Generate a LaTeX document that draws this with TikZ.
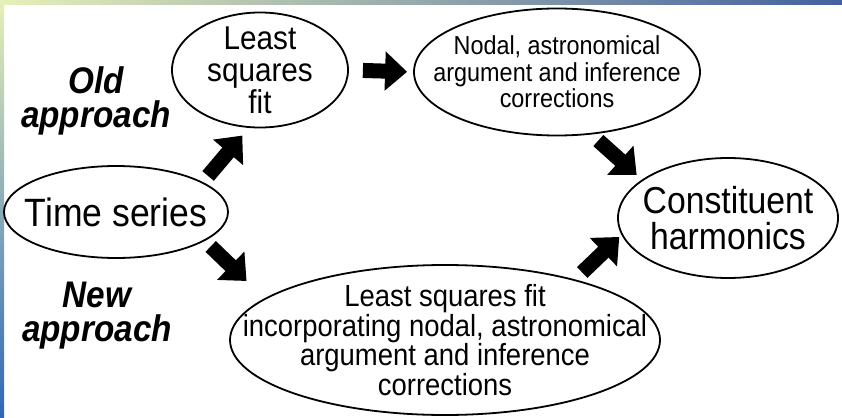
\documentclass[tikz,border=0pt]{standalone}
\usepackage{fontspec}
\setmainfont{Liberation Sans}[FakeStretch=0.9]
\usetikzlibrary{shapes.geometric,arrows.meta}
\definecolor{stripyellow}{HTML}{E6F0B8}
\definecolor{stripgrey}{HTML}{8CA4B4}
\definecolor{stripnavy}{HTML}{4460A0}
\definecolor{stripcyan}{HTML}{5CC4DC}
\definecolor{stripblue}{HTML}{2E66B8}

\begin{document}
\begin{tikzpicture}[x=1pt, y=-1pt,
    bubble/.style={draw, ellipse, line width=1.8pt, inner xsep=-45pt, inner ysep=-14pt, align=center},
    fat/.style={line width=15pt, -{Triangle[length=22pt, width=38pt]}},
    side/.style={align=center, font=\bfseries\itshape\fontsize{37}{34}\selectfont}]
    \useasboundingbox (0,0) rectangle (842,417);
    % frame strips
    \shade[left color=stripyellow, middle color=stripgrey, right color=stripnavy] (0,0) rectangle (842,5);
    \shade[top color=stripyellow, middle color=stripcyan, bottom color=stripblue] (0,0) rectangle (4,417);

    \node[bubble, minimum width=224pt, minimum height=92pt, font=\fontsize{39.5}{32}\selectfont] (series) at (116,212) {Time series};
    \node[bubble, minimum width=176pt, minimum height=115pt, font=\fontsize{33}{32}\selectfont] (lsfit) at (260,70) {Least\\squares\\fit};
    \node[bubble, minimum width=286pt, minimum height=127pt, font=\fontsize{26}{26.5}\selectfont] (corr) at (557,72) {Nodal, astronomical\\argument and inference\\corrections};
    \node[bubble, minimum width=220pt, minimum height=120pt, font=\fontsize{37.5}{36}\selectfont] (harm) at (728,218) {Constituent\\harmonics};
    \node[bubble, inner xsep=-75pt, minimum width=430pt, minimum height=150pt, font=\fontsize{30.5}{27.5}\selectfont] (newfit) at (445,340) {Least squares fit\\incorporating nodal, astronomical\\argument and inference\\corrections};
    \node[side] (old) at (96,101) {Old\\approach};
    \node[side] (new) at (97,316) {New\\approach};

    \draw[fat, shorten <=8pt, shorten >=10pt] (series.19) -- (lsfit.-101);
    \draw[fat, shorten <=14pt, shorten >=6pt] (lsfit.0) -- (corr.180);
    \draw[fat, shorten <=9pt, shorten >=7pt] (corr.-61.5) -- (harm.156.7);
    \draw[fat, shorten <=8pt, shorten >=25pt] (series.-18) -- (newfit.167.6);
    \draw[fat, shorten <=10pt, shorten >=3pt] (newfit.25.4) -- (harm.189);
\end{tikzpicture}
\end{document}
